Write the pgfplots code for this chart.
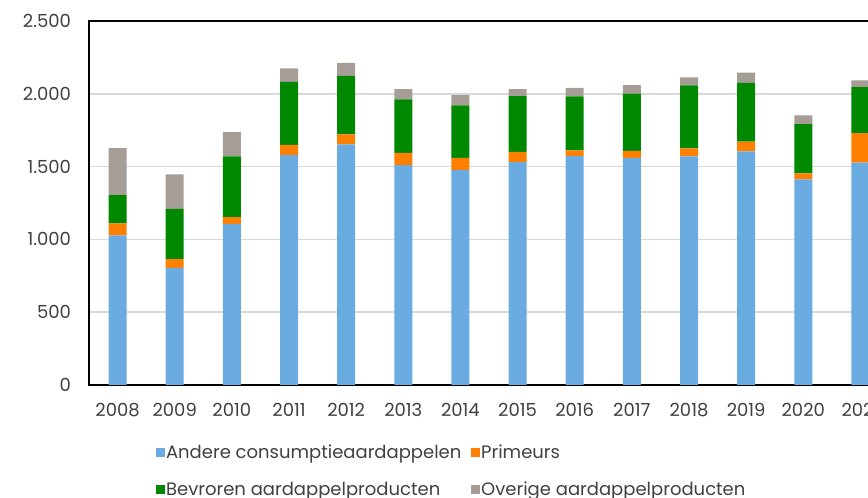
\documentclass[border=0pt]{standalone}
\usepackage{fontspec}
\setmainfont{Poppins}
\usepackage{pgfplots}
\pgfplotsset{compat=1.18}
\definecolor{cblue}{RGB}{106,172,226}
\definecolor{corange}{RGB}{255,127,0}
\definecolor{cgreen}{RGB}{0,136,0}
\definecolor{cgray}{RGB}{166,157,150}
\definecolor{ctext}{RGB}{64,64,64}
\definecolor{cgrid}{RGB}{217,217,217}
\begin{document}
\begin{tikzpicture}
\begin{axis}[
  name=ax,
  scale only axis,
  width=600pt, height=273pt,
  ybar stacked,
  bar width=13.5pt,
  xmin=-0.5, xmax=13.5,
  ymin=0, ymax=2500,
  enlargelimits=false,
  xtick=data,
  xticklabels={2008,2009,2010,2011,2012,2013,2014,2015,2016,2017,2018,2019,2020,2021},
  ytick={0,500,1000,1500,2000,2500},
  yticklabels={0,500,1.000,1.500,2.000,2.500},
  major tick length=0pt,
  tick label style={font=\fontsize{13.5}{16}\selectfont, text=ctext},
  yticklabel style={xshift=-10pt},
  xticklabel style={yshift=-10.5pt},
  ymajorgrids,
  grid style={draw=cgrid, line width=1.1pt},
  axis line style={line width=1.5pt, black},
  legend columns=2,
  legend cell align=left,
  legend style={draw=none, fill=none, at={(0.083,-0.16)}, anchor=north west,
    inner sep=0pt, row sep=14pt,
    font=\fontsize{13.5}{16}\selectfont, text=ctext,
    nodes={inner sep=1pt},
    /tikz/every even column/.append style={column sep=6pt}},
  legend image code/.code={\fill[#1] (0pt,-3.4pt) rectangle (6.8pt,3.4pt);},
]
\addplot[fill=cblue, draw=none] coordinates {(0,1027) (1,805) (2,1105) (3,1578) (4,1652) (5,1510) (6,1478) (7,1531) (8,1572) (9,1558) (10,1570) (11,1604) (12,1412) (13,1528)};
\addplot[fill=corange, draw=none] coordinates {(0,83) (1,60) (2,48) (3,72) (4,69) (5,84) (6,82) (7,70) (8,40) (9,50) (10,55) (11,68) (12,41) (13,202)};
\addplot[fill=cgreen, draw=none] coordinates {(0,194) (1,345) (2,417) (3,431) (4,402) (5,367) (6,360) (7,383) (8,370) (9,394) (10,432) (11,403) (12,338) (13,315)};
\addplot[fill=cgray, draw=none] coordinates {(0,323) (1,236) (2,166) (3,94) (4,89) (5,71) (6,70) (7,48) (8,58) (9,57) (10,55) (11,71) (12,60) (13,48)};
\legend{Andere consumptieaardappelen,Primeurs,Bevroren aardappelproducten,Overige aardappelproducten}
\end{axis}
\pgfresetboundingbox
\path[use as bounding box] ([shift={(-66.75pt,-84.75pt)}]ax.south west) rectangle ([shift={(584.25pt,288.75pt)}]ax.south west);
\end{tikzpicture}
\end{document}
